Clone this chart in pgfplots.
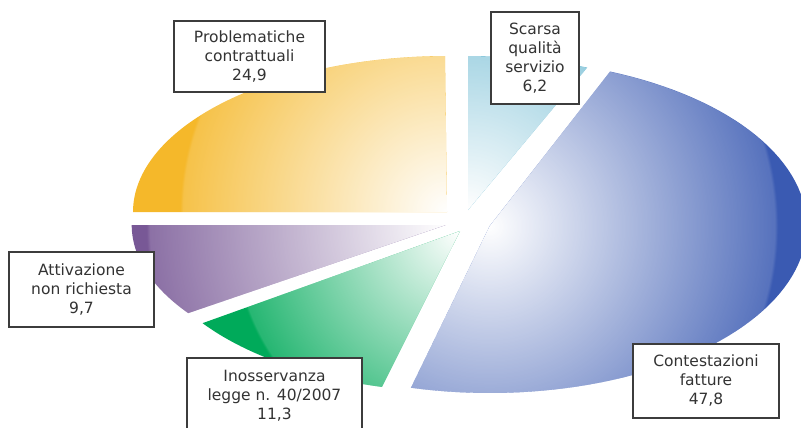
\documentclass[border=0pt]{standalone}
\usepackage{pgfplots}
\pgfplotsset{compat=1.18}
\usepackage{pgfplotstable}
\usetikzlibrary{fadings}
\usepackage{fontspec}
\setmainfont{DejaVu Sans}

\definecolor{cScarsa}{HTML}{58B0CC}
\definecolor{cCont}{HTML}{3A5AB2}
\definecolor{cInoss}{HTML}{00AA5A}
\definecolor{cAttiv}{HTML}{785896}
\definecolor{cProbl}{HTML}{F5B82A}
\definecolor{boxgray}{HTML}{3C3C3C}
\definecolor{txtgray}{HTML}{333333}

% white glow: opaque at the centre, 15% left at 45bp, then a step to transparent
\pgfdeclareradialshading{pieglow}{\pgfpointorigin}{color(0bp)=(white); color(45bp)=(black!85!white); color(45.5bp)=(black); color(50bp)=(black)}
\pgfdeclarefading{piefade}{\pgfuseshading{pieglow}}

\pgfplotstableread{
slice value
0 6.2
1 47.8
2 11.3
3 9.7
4 24.9
}\piedata

\newcommand{\getval}[2]{\pgfplotstablegetelem{#1}{value}\of\piedata\let#2\pgfplotsretval}
\getval{0}\vA \getval{1}\vB \getval{2}\vC \getval{3}\vD \getval{4}\vE
\pgfmathsetmacro{\aA}{90}
\pgfmathsetmacro{\aB}{\aA-3.6*\vA}
\pgfmathsetmacro{\aC}{\aB-3.6*\vB}
\pgfmathsetmacro{\aD}{\aC-3.6*\vC}
\pgfmathsetmacro{\aE}{\aD-3.6*\vD}
\pgfmathsetmacro{\aF}{\aE-3.6*\vE}

% #1 colour, #2 start angle, #3 end angle, #4,#5 tip, #6,#7 radii, #8 glow radius
\newcommand{\piewedge}[8]{%
  \addplot[fill=#1, draw=none, variable=\s, domain=0:81, samples=82,
    postaction={fill=white, path fading=piefade, fit fading=false,
      fading transform={shift={(axis cs:#4,#5)}, scale=#8/45}}]
   ({#4 + and(\s>0.5,\s<80.5)*#6*cos((#2)+((#3)-(#2))*(\s-1)/79)},
    {#5 - and(\s>0.5,\s<80.5)*#7*sin((#2)+((#3)-(#2))*(\s-1)/79)});
}

\newcommand{\lbl}{\fontsize{15.5bp}{19bp}\selectfont}

\begin{document}
\begin{tikzpicture}
\begin{axis}[x=1bp, y=1bp, y dir=reverse, xmin=0, xmax=801, ymin=0, ymax=427,
  hide axis, clip=true]
  \piewedge{cScarsa}{\aA}{\aB}{468}{210}{314}{154}{260}
  \piewedge{cCont}{\aB}{\aC}{489.7}{226}{317}{167}{285}
  \piewedge{cInoss}{\aC}{\aD}{460}{231}{314}{161}{225}
  \piewedge{cAttiv}{\aD}{\aE}{445.7}{225}{314}{154}{296}
  \piewedge{cProbl}{\aE}{\aF}{447}{212}{314}{156}{264}
  \begin{scope}[every node/.style={draw=boxgray, line width=1.3bp, fill=white,
      text=txtgray, font=\lbl, align=center, inner sep=0pt}]
  \node[minimum width=151bp, minimum height=71bp] at (axis cs:249.5,56.5)
    {Problematiche\\contrattuali\\24,9};
  \node[minimum width=88bp, minimum height=92bp] at (axis cs:535,58)
    {Scarsa\\qualità\\servizio\\6,2};
  \node[minimum width=145bp, minimum height=75bp] at (axis cs:81.5,289.5)
    {Attivazione\\non richiesta\\9,7};
  \node[minimum width=175bp, minimum height=76bp] at (axis cs:274.5,396)
    {Inosservanza\\legge n. 40/2007\\11,3};
  \node[minimum width=146bp, minimum height=74bp] at (axis cs:706,381)
    {Contestazioni\\fatture\\47,8};
  \end{scope}
\end{axis}
\pgfresetboundingbox
\path (current axis.south west) rectangle (current axis.north east);
\end{tikzpicture}
\end{document}
